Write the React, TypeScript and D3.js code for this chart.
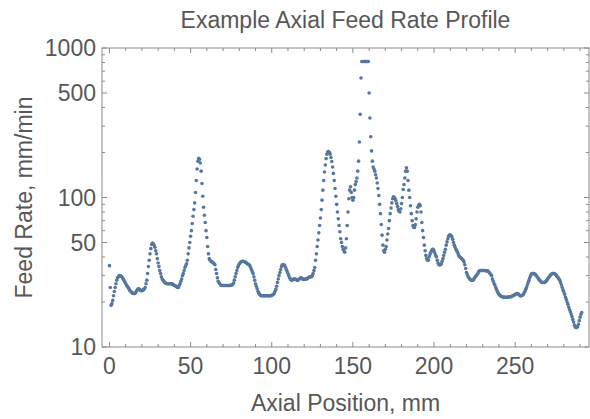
import React from 'react';
import * as d3 from 'd3';

// Feed rate (mm/min), sampled every 0.5 mm of axial position starting at 0 mm
const positionStart = 0;
const positionStep = 0.5;
const feedRate: number[] = [
  35, 25, 19, 19.5, 20.5, 22, 23.5, 25, 26.5, 28, 29, 29.5, 30, 30, 29.8, 29.5, 29, 28.5, 27.8, 27.2,
  26.5, 26, 25.5, 25, 24.5, 24, 23.6, 23.3, 23, 22.8, 22.8, 22.8, 23, 23.5, 24, 24.4, 24.5, 24.3, 24, 23.8,
  23.8, 24, 24.2, 24.4, 25, 26.5, 28, 31, 34.5, 38, 42, 45.5, 48.5, 49.5, 49, 48, 46.5, 44, 42, 39,
  36.5, 34.5, 32.5, 31, 29.5, 28.5, 28, 27.5, 27, 26.8, 26.6, 26.5, 26.5, 26.5, 26.5, 26.5, 26.5, 26.5, 26.3, 26,
  25.8, 25.7, 25.5, 25.2, 25, 25, 25.8, 26.5, 27.5, 28.5, 30, 31, 32.5, 34, 35, 36, 38, 42, 46, 50,
  55, 60, 67, 75, 83, 92, 108, 130, 155, 175, 183, 180, 170, 150, 124, 102, 86, 76, 68, 60,
  54, 47, 42, 39, 38, 37.5, 37, 37, 36.5, 36, 35.5, 33, 31, 29, 27.5, 27, 26.5, 26, 25.8, 25.8,
  25.8, 25.8, 25.8, 25.8, 25.8, 25.8, 25.8, 25.8, 25.8, 25.8, 26, 26, 26.3, 26.8, 28, 29.5, 31, 32.5, 34, 35,
  36, 36.5, 37, 37.3, 37.5, 37.5, 37.3, 37, 36.8, 36.5, 36, 35.8, 35.5, 35, 34, 33, 32, 31, 29.5, 28,
  26.5, 25.5, 24.5, 23.5, 23, 22.5, 22.2, 22, 22, 22, 22, 22, 22, 22, 22, 22, 22, 22, 22, 22,
  22.2, 22.3, 22.5, 22.8, 23.5, 24.3, 25.5, 27, 28.5, 30, 31.5, 33, 34.5, 35.5, 35.5, 35.5, 35, 34, 33, 32,
  31, 30, 29, 28.5, 28, 28, 28.3, 28.5, 28.5, 28.5, 28.3, 28, 28, 28.2, 28.5, 28.8, 29, 28.8, 28.5, 28.3,
  28.3, 28.5, 28.5, 28.5, 28.8, 29, 29.3, 29.5, 29.5, 29.5, 30, 31, 32.5, 34, 38, 42, 47, 52, 58, 65,
  73, 83, 96, 112, 130, 148, 165, 182, 195, 202, 203, 200, 195, 185, 174, 160, 145, 130, 115, 102,
  90, 80, 72, 65, 59, 53, 50, 47, 45, 44, 43, 46, 53, 65, 80, 98, 112, 118, 108, 100,
  96, 100, 112, 122, 128, 135, 150, 175, 235, 360, 630, 813, 813, 813, 813, 813, 813, 813, 813, 813,
  500, 340, 255, 205, 175, 160, 155, 150, 142, 135, 125, 115, 103, 90, 78, 66, 56, 48, 44, 43,
  45, 47, 52, 57, 62, 70, 78, 85, 92, 98, 101, 100, 98, 95, 91, 87, 83, 81, 80, 84,
  91, 100, 113, 122, 135, 150, 158, 150, 130, 112, 100, 88, 78, 70, 65, 63, 63, 66, 72, 80,
  86, 88, 90, 88, 80, 68, 60, 54, 48, 44, 41, 39, 38, 38, 40, 41.5, 43, 44, 45, 45,
  44, 42.5, 41, 40, 38, 36.5, 35.5, 35.5, 35.5, 36, 37.5, 39, 41, 43, 45, 48, 50.5, 53, 55, 56,
  56, 55.5, 54.5, 52.5, 50, 48, 46.5, 45, 44, 43, 41.5, 40.5, 40, 39.5, 39, 38.5, 38, 37, 35.5, 33.5,
  31.5, 30.5, 29.5, 29, 28.5, 28.2, 28, 28, 28, 28.3, 29, 29.5, 30, 30.5, 31, 31.8, 32.3, 32.5, 32.5, 32.5,
  32.5, 32.5, 32.5, 32.5, 32.3, 32.3, 32.3, 32, 31.5, 31, 30.5, 30, 28.5, 27.5, 26.5, 26, 25, 24.3, 23.5, 23,
  22.5, 22.2, 22, 21.8, 21.7, 21.6, 21.5, 21.5, 21.5, 21.5, 21.5, 21.5, 21.6, 21.7, 21.7, 21.7, 21.8, 22, 22.2, 22.3,
  22.4, 22.6, 22.8, 22.8, 22.6, 22.3, 22, 22, 22, 22.2, 22.5, 23, 23.5, 24.3, 25, 26, 27, 28, 29, 30,
  30.8, 31, 31, 31, 30.8, 30.5, 30, 29.5, 29, 28.5, 28, 27.7, 27.3, 27, 27, 27, 27, 27.2, 27.5, 28,
  28.5, 29, 29.5, 30, 30.5, 30.8, 31, 31, 31, 30.8, 30.5, 30, 29.5, 29, 28.5, 28, 27, 26, 25, 24,
  23.3, 22.5, 21.5, 20.8, 20, 19.3, 18.5, 17.8, 17.2, 16.6, 16, 15.3, 14.7, 14, 13.6, 13.5, 13.5, 13.7, 14.2, 15,
  15.8, 16.5, 17,
];

const xMajorTicks = [0, 50, 100, 150, 200, 250];
const xMinorTicks = [10, 20, 30, 40, 60, 70, 80, 90, 110, 120, 130, 140, 160, 170, 180, 190, 210, 220, 230, 240, 260, 270, 280, 290];
const yMajorTicks = [10, 50, 100, 500, 1000];
const yMinorTicks = [20, 30, 40, 60, 70, 80, 90, 200, 300, 400, 600, 700, 800, 900];

const title = 'Example Axial Feed Rate Profile';
const xLabel = 'Axial Position, mm';
const yLabel = 'Feed Rate, mm/min';

const W = 590;
const H = 419;
const left = 102;
const right = 589;
const top = 48;
const bottom = 347;

const font = '"Liberation Sans", Arial, Helvetica, sans-serif';
const fontSize = 23;
const textColor = '#575757';
const frameColor = '#8a8a8a';
const pointColor = '#56779f';

export default function App() {
  const x = d3.scaleLinear().domain([-4.6, 295.5]).range([left, right]);
  const y = d3.scaleLog().domain([10, 1000]).range([bottom, top]);

  const points = feedRate.map((v, i) => ({ pos: positionStart + i * positionStep, v }));

  const majorLen = 5;
  const minorLen = 3;

  return (
    <svg width={W} height={H} style={{ position: 'absolute', left: 0, top: 0, background: '#fff' }}>
      <text x={(left + right) / 2} y={28} textAnchor="middle" fontFamily={font} fontSize={fontSize} fill={textColor}>
        {title}
      </text>

      {/* frame */}
      <rect x={left} y={top} width={right - left} height={bottom - top} fill="none" stroke={frameColor} strokeWidth={1} />

      {/* x ticks, bottom and top */}
      {xMajorTicks.map(t => (
        <g key={'xm' + t}>
          <line x1={x(t)} x2={x(t)} y1={bottom} y2={bottom - majorLen} stroke={frameColor} />
          <line x1={x(t)} x2={x(t)} y1={top} y2={top + majorLen} stroke={frameColor} />
          <text x={x(t)} y={bottom + 27} textAnchor="middle" fontFamily={font} fontSize={fontSize} fill={textColor}>
            {t}
          </text>
        </g>
      ))}
      {xMinorTicks.map(t => (
        <g key={'xn' + t}>
          <line x1={x(t)} x2={x(t)} y1={bottom} y2={bottom - minorLen} stroke={frameColor} />
          <line x1={x(t)} x2={x(t)} y1={top} y2={top + minorLen} stroke={frameColor} />
        </g>
      ))}

      {/* y ticks, left and right */}
      {yMajorTicks.map(t => (
        <g key={'ym' + t}>
          <line x1={left} x2={left + majorLen} y1={y(t)} y2={y(t)} stroke={frameColor} />
          <line x1={right} x2={right - majorLen} y1={y(t)} y2={y(t)} stroke={frameColor} />
          <text x={left - 6} y={y(t)} dy="0.36em" textAnchor="end" fontFamily={font} fontSize={fontSize} fill={textColor}>
            {t}
          </text>
        </g>
      ))}
      {yMinorTicks.map(t => (
        <g key={'yn' + t}>
          <line x1={left} x2={left + minorLen} y1={y(t)} y2={y(t)} stroke={frameColor} />
          <line x1={right} x2={right - minorLen} y1={y(t)} y2={y(t)} stroke={frameColor} />
        </g>
      ))}

      {/* data points */}
      {points.map((p, i) => (
        <circle key={i} cx={x(p.pos)} cy={y(p.v)} r={1.8} fill={pointColor} />
      ))}

      <text x={(left + right) / 2} y={411} textAnchor="middle" fontFamily={font} fontSize={fontSize} fill={textColor}>
        {xLabel}
      </text>
      <text
        transform={`translate(32, ${(top + bottom) / 2}) rotate(-90)`}
        textAnchor="middle"
        fontFamily={font}
        fontSize={fontSize}
        fill={textColor}
      >
        {yLabel}
      </text>
    </svg>
  );
}
